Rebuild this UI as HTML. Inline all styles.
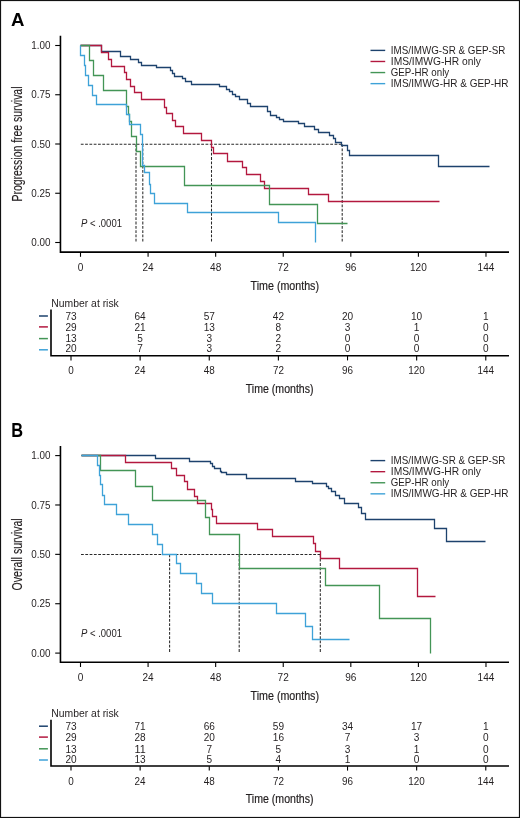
<!DOCTYPE html>
<html><head><meta charset="utf-8"><title>Kaplan-Meier survival curves</title>
<style>
html,body{margin:0;padding:0;background:#fff;}
body{width:520px;height:818px;overflow:hidden;}
svg{display:block;will-change:transform;}
svg text{font-family:'Liberation Sans',sans-serif;}
</style></head><body>
<svg width="520" height="818" viewBox="0 0 520 818">
<rect x="0" y="0" width="520" height="818" fill="#fff"/>
<text x="11.0" y="25.8" font-size="18.60" font-weight="bold" fill="#000">A</text>
<path d="M60.45 35.8 V252.1 H509" fill="none" stroke="#000" stroke-width="1.6"/>
<path d="M55.2 45.50 H60" stroke="#000" stroke-width="1.1"/>
<text x="50.5" y="49.1" font-size="10.00" text-anchor="end" textLength="19.2" lengthAdjust="spacingAndGlyphs" fill="#231f20">1.00</text>
<path d="M55.2 94.75 H60" stroke="#000" stroke-width="1.1"/>
<text x="50.5" y="98.3" font-size="10.00" text-anchor="end" textLength="19.2" lengthAdjust="spacingAndGlyphs" fill="#231f20">0.75</text>
<path d="M55.2 144.00 H60" stroke="#000" stroke-width="1.1"/>
<text x="50.5" y="147.6" font-size="10.00" text-anchor="end" textLength="19.2" lengthAdjust="spacingAndGlyphs" fill="#231f20">0.50</text>
<path d="M55.2 193.25 H60" stroke="#000" stroke-width="1.1"/>
<text x="50.5" y="196.8" font-size="10.00" text-anchor="end" textLength="19.2" lengthAdjust="spacingAndGlyphs" fill="#231f20">0.25</text>
<path d="M55.2 242.50 H60" stroke="#000" stroke-width="1.1"/>
<text x="50.5" y="246.1" font-size="10.00" text-anchor="end" textLength="19.2" lengthAdjust="spacingAndGlyphs" fill="#231f20">0.00</text>
<path d="M80.50 252.5 V256.8" stroke="#000" stroke-width="1.1"/>
<text x="80.5" y="270.7" font-size="10.00" text-anchor="middle" textLength="5.6" lengthAdjust="spacingAndGlyphs" fill="#231f20">0</text>
<path d="M148.08 252.5 V256.8" stroke="#000" stroke-width="1.1"/>
<text x="148.1" y="270.7" font-size="10.00" text-anchor="middle" textLength="11.2" lengthAdjust="spacingAndGlyphs" fill="#231f20">24</text>
<path d="M215.66 252.5 V256.8" stroke="#000" stroke-width="1.1"/>
<text x="215.7" y="270.7" font-size="10.00" text-anchor="middle" textLength="11.2" lengthAdjust="spacingAndGlyphs" fill="#231f20">48</text>
<path d="M283.24 252.5 V256.8" stroke="#000" stroke-width="1.1"/>
<text x="283.2" y="270.7" font-size="10.00" text-anchor="middle" textLength="11.2" lengthAdjust="spacingAndGlyphs" fill="#231f20">72</text>
<path d="M350.82 252.5 V256.8" stroke="#000" stroke-width="1.1"/>
<text x="350.8" y="270.7" font-size="10.00" text-anchor="middle" textLength="11.2" lengthAdjust="spacingAndGlyphs" fill="#231f20">96</text>
<path d="M418.40 252.5 V256.8" stroke="#000" stroke-width="1.1"/>
<text x="418.4" y="270.7" font-size="10.00" text-anchor="middle" textLength="16.8" lengthAdjust="spacingAndGlyphs" fill="#231f20">120</text>
<path d="M485.98 252.5 V256.8" stroke="#000" stroke-width="1.1"/>
<text x="486.0" y="270.7" font-size="10.00" text-anchor="middle" textLength="16.8" lengthAdjust="spacingAndGlyphs" fill="#231f20">144</text>
<text x="250.6" y="289.6" font-size="12.00" textLength="68.4" lengthAdjust="spacingAndGlyphs" fill="#231f20" stroke="#231f20" stroke-width="0.2">Time (months)</text>
<text x="0" y="0" font-size="13.8" text-anchor="middle" stroke="#231f20" stroke-width="0.15" textLength="115.0" lengthAdjust="spacingAndGlyphs" fill="#231f20" transform="translate(22.3 144.0) rotate(-90)">Progression free survival</text>
<text x="81" y="226.5" font-size="10.1" fill="#231f20" textLength="41" lengthAdjust="spacingAndGlyphs"><tspan font-style="italic">P</tspan> &lt; .0001</text>
<path d="M370.5 50.40 H385.2" stroke="#1d426d" stroke-width="1.4"/>
<text x="390.8" y="53.6" font-size="10.20" textLength="114.6" lengthAdjust="spacingAndGlyphs" fill="#231f20">IMS/IMWG-SR &amp; GEP-SR</text>
<path d="M370.5 61.48 H385.2" stroke="#b3183f" stroke-width="1.4"/>
<text x="390.8" y="64.7" font-size="10.20" textLength="90.0" lengthAdjust="spacingAndGlyphs" fill="#231f20">IMS/IMWG-HR only</text>
<path d="M370.5 72.56 H385.2" stroke="#439556" stroke-width="1.4"/>
<text x="390.8" y="75.7" font-size="10.20" textLength="58.4" lengthAdjust="spacingAndGlyphs" fill="#231f20">GEP-HR only</text>
<path d="M370.5 83.64 H385.2" stroke="#3ea2d8" stroke-width="1.4"/>
<text x="390.8" y="86.8" font-size="10.20" textLength="117.7" lengthAdjust="spacingAndGlyphs" fill="#231f20">IMS/IMWG-HR &amp; GEP-HR</text>
<path d="M80.8 144.2 H342.2 M136.0 144.2 V242.5 M142.8 144.2 V242.5 M211.5 144.2 V242.5 M342.2 144.2 V242.5" fill="none" stroke="#2a2a2a" stroke-width="1.05" stroke-dasharray="2.8 1.5"/>
<path d="M80.5 45.5 H101.5 V51.5 H120.5 V56.5 H130.5 V59.5 H138.5 V62.5 H141.5 V65.5 H156.5 V67.5 H170.5 V70.5 H172.5 V73.5 H174.5 V76.5 H182.5 V78.5 H185.5 V81.5 H191.5 V84.5 H219.5 V86.5 H226.5 V89.5 H229.5 V91.5 H232.5 V94.5 H235.5 V96.5 H239.5 V99.5 H247.5 V103.5 H250.5 V106.5 H267.5 V111.5 H270.5 V115.5 H276.5 V117.5 H279.5 V119.5 H283.5 V121.5 H298.5 V123.5 H304.5 V126.5 H314.5 V129.5 H318.5 V132.5 H329.5 V135.5 H333.5 V138.5 H335.5 V142.5 H341.5 V145.5 H347.5 V150.5 H349.5 V155.5 H438.5 V166.5 H489.5" fill="none" stroke="#1d426d" stroke-width="1.3"/>
<path d="M80.5 45.5 H101.5 V52.5 H108.5 V59.5 H111.5 V66.5 H124.5 V72.5 H126.5 V79.5 H130.5 V86.5 H134.5 V92.5 H141.5 V99.5 H164.5 V107.5 H166.5 V113.5 H172.5 V120.5 H175.5 V126.5 H183.5 V133.5 H201.5 V140.5 H211.5 V147.5 H213.5 V153.5 H227.5 V161.5 H242.5 V167.5 H246.5 V174.5 H260.5 V181.5 H264.5 V188.5 H308.5 V194.5 H328.5 V201.5 H439.5" fill="none" stroke="#b3183f" stroke-width="1.3"/>
<path d="M80.5 45.5 H89.5 V60.5 H93.5 V75.5 H103.5 V90.5 H126.5 V106.5 H128.5 V114.5 H129.5 V121.5 H131.5 V136.5 H136.5 V151.5 H140.5 V166.5 H184.5 V185.5 H269.5 V204.5 H317.5 V223.5 H347.5" fill="none" stroke="#439556" stroke-width="1.3"/>
<path d="M80.5 45.5 V55.5 H84.5 V65.5 H85.5 V75.5 H88.5 V85.5 H92.5 V95.5 H96.5 V104.5 H126.5 V114.5 H129.5 V124.5 H140.5 V134.5 H142.5 V165.5 H144.5 V172.5 H149.5 V184.5 H150.5 V193.5 H154.5 V203.5 H187.5 V212.5 H278.5 V222.5 H315.5 V242.5" fill="none" stroke="#3ea2d8" stroke-width="1.3"/>
<text x="51.3" y="306.5" font-size="10.00" textLength="67.5" lengthAdjust="spacingAndGlyphs" fill="#231f20">Number at risk</text>
<path d="M51 309.5 V355.8 H509" fill="none" stroke="#000" stroke-width="1.6"/>
<path d="M39 316.0 H47.9" stroke="#1d426d" stroke-width="1.5"/>
<text x="71.0" y="319.5" font-size="10.00" text-anchor="middle" textLength="11.2" lengthAdjust="spacingAndGlyphs" fill="#231f20">73</text>
<text x="140.1" y="319.5" font-size="10.00" text-anchor="middle" textLength="11.2" lengthAdjust="spacingAndGlyphs" fill="#231f20">64</text>
<text x="209.3" y="319.5" font-size="10.00" text-anchor="middle" textLength="11.2" lengthAdjust="spacingAndGlyphs" fill="#231f20">57</text>
<text x="278.4" y="319.5" font-size="10.00" text-anchor="middle" textLength="11.2" lengthAdjust="spacingAndGlyphs" fill="#231f20">42</text>
<text x="347.5" y="319.5" font-size="10.00" text-anchor="middle" textLength="11.2" lengthAdjust="spacingAndGlyphs" fill="#231f20">20</text>
<text x="416.6" y="319.5" font-size="10.00" text-anchor="middle" textLength="11.2" lengthAdjust="spacingAndGlyphs" fill="#231f20">10</text>
<text x="485.8" y="319.5" font-size="10.00" text-anchor="middle" textLength="5.6" lengthAdjust="spacingAndGlyphs" fill="#231f20">1</text>
<path d="M39 326.9 H47.9" stroke="#b3183f" stroke-width="1.5"/>
<text x="71.0" y="330.8" font-size="10.00" text-anchor="middle" textLength="11.2" lengthAdjust="spacingAndGlyphs" fill="#231f20">29</text>
<text x="140.1" y="330.8" font-size="10.00" text-anchor="middle" textLength="11.2" lengthAdjust="spacingAndGlyphs" fill="#231f20">21</text>
<text x="209.3" y="330.8" font-size="10.00" text-anchor="middle" textLength="11.2" lengthAdjust="spacingAndGlyphs" fill="#231f20">13</text>
<text x="278.4" y="330.8" font-size="10.00" text-anchor="middle" textLength="5.6" lengthAdjust="spacingAndGlyphs" fill="#231f20">8</text>
<text x="347.5" y="330.8" font-size="10.00" text-anchor="middle" textLength="5.6" lengthAdjust="spacingAndGlyphs" fill="#231f20">3</text>
<text x="416.6" y="330.8" font-size="10.00" text-anchor="middle" textLength="5.6" lengthAdjust="spacingAndGlyphs" fill="#231f20">1</text>
<text x="485.8" y="330.8" font-size="10.00" text-anchor="middle" textLength="5.6" lengthAdjust="spacingAndGlyphs" fill="#231f20">0</text>
<path d="M39 338.6 H47.9" stroke="#439556" stroke-width="1.5"/>
<text x="71.0" y="342.3" font-size="10.00" text-anchor="middle" textLength="11.2" lengthAdjust="spacingAndGlyphs" fill="#231f20">13</text>
<text x="140.1" y="342.3" font-size="10.00" text-anchor="middle" textLength="5.6" lengthAdjust="spacingAndGlyphs" fill="#231f20">5</text>
<text x="209.3" y="342.3" font-size="10.00" text-anchor="middle" textLength="5.6" lengthAdjust="spacingAndGlyphs" fill="#231f20">3</text>
<text x="278.4" y="342.3" font-size="10.00" text-anchor="middle" textLength="5.6" lengthAdjust="spacingAndGlyphs" fill="#231f20">2</text>
<text x="347.5" y="342.3" font-size="10.00" text-anchor="middle" textLength="5.6" lengthAdjust="spacingAndGlyphs" fill="#231f20">0</text>
<text x="416.6" y="342.3" font-size="10.00" text-anchor="middle" textLength="5.6" lengthAdjust="spacingAndGlyphs" fill="#231f20">0</text>
<text x="485.8" y="342.3" font-size="10.00" text-anchor="middle" textLength="5.6" lengthAdjust="spacingAndGlyphs" fill="#231f20">0</text>
<path d="M39 349.8 H47.9" stroke="#3ea2d8" stroke-width="1.5"/>
<text x="71.0" y="352.3" font-size="10.00" text-anchor="middle" textLength="11.2" lengthAdjust="spacingAndGlyphs" fill="#231f20">20</text>
<text x="140.1" y="352.3" font-size="10.00" text-anchor="middle" textLength="5.6" lengthAdjust="spacingAndGlyphs" fill="#231f20">7</text>
<text x="209.3" y="352.3" font-size="10.00" text-anchor="middle" textLength="5.6" lengthAdjust="spacingAndGlyphs" fill="#231f20">3</text>
<text x="278.4" y="352.3" font-size="10.00" text-anchor="middle" textLength="5.6" lengthAdjust="spacingAndGlyphs" fill="#231f20">2</text>
<text x="347.5" y="352.3" font-size="10.00" text-anchor="middle" textLength="5.6" lengthAdjust="spacingAndGlyphs" fill="#231f20">0</text>
<text x="416.6" y="352.3" font-size="10.00" text-anchor="middle" textLength="5.6" lengthAdjust="spacingAndGlyphs" fill="#231f20">0</text>
<text x="485.8" y="352.3" font-size="10.00" text-anchor="middle" textLength="5.6" lengthAdjust="spacingAndGlyphs" fill="#231f20">0</text>
<path d="M71.00 356.0 V360.4" stroke="#000" stroke-width="1.1"/>
<text x="71.0" y="374.3" font-size="10.00" text-anchor="middle" textLength="5.5" lengthAdjust="spacingAndGlyphs" fill="#231f20">0</text>
<path d="M140.13 356.0 V360.4" stroke="#000" stroke-width="1.1"/>
<text x="140.1" y="374.3" font-size="10.00" text-anchor="middle" textLength="11.0" lengthAdjust="spacingAndGlyphs" fill="#231f20">24</text>
<path d="M209.26 356.0 V360.4" stroke="#000" stroke-width="1.1"/>
<text x="209.3" y="374.3" font-size="10.00" text-anchor="middle" textLength="11.0" lengthAdjust="spacingAndGlyphs" fill="#231f20">48</text>
<path d="M278.39 356.0 V360.4" stroke="#000" stroke-width="1.1"/>
<text x="278.4" y="374.3" font-size="10.00" text-anchor="middle" textLength="11.0" lengthAdjust="spacingAndGlyphs" fill="#231f20">72</text>
<path d="M347.52 356.0 V360.4" stroke="#000" stroke-width="1.1"/>
<text x="347.5" y="374.3" font-size="10.00" text-anchor="middle" textLength="11.0" lengthAdjust="spacingAndGlyphs" fill="#231f20">96</text>
<path d="M416.65 356.0 V360.4" stroke="#000" stroke-width="1.1"/>
<text x="416.6" y="374.3" font-size="10.00" text-anchor="middle" textLength="16.5" lengthAdjust="spacingAndGlyphs" fill="#231f20">120</text>
<path d="M485.78 356.0 V360.4" stroke="#000" stroke-width="1.1"/>
<text x="485.8" y="374.3" font-size="10.00" text-anchor="middle" textLength="16.5" lengthAdjust="spacingAndGlyphs" fill="#231f20">144</text>
<text x="245.8" y="392.7" font-size="12.00" textLength="67.7" lengthAdjust="spacingAndGlyphs" fill="#231f20" stroke="#231f20" stroke-width="0.2">Time (months)</text>
<text x="0" y="0" font-size="18.6" font-weight="bold" fill="#000" transform="translate(11.3 436.8) scale(0.88 1.04)">B</text>
<path d="M60.45 446.0 V662.3 H509" fill="none" stroke="#000" stroke-width="1.6"/>
<path d="M55.2 455.60 H60" stroke="#000" stroke-width="1.1"/>
<text x="50.5" y="459.2" font-size="10.00" text-anchor="end" textLength="19.2" lengthAdjust="spacingAndGlyphs" fill="#231f20">1.00</text>
<path d="M55.2 504.98 H60" stroke="#000" stroke-width="1.1"/>
<text x="50.5" y="508.6" font-size="10.00" text-anchor="end" textLength="19.2" lengthAdjust="spacingAndGlyphs" fill="#231f20">0.75</text>
<path d="M55.2 554.35 H60" stroke="#000" stroke-width="1.1"/>
<text x="50.5" y="558.0" font-size="10.00" text-anchor="end" textLength="19.2" lengthAdjust="spacingAndGlyphs" fill="#231f20">0.50</text>
<path d="M55.2 603.73 H60" stroke="#000" stroke-width="1.1"/>
<text x="50.5" y="607.3" font-size="10.00" text-anchor="end" textLength="19.2" lengthAdjust="spacingAndGlyphs" fill="#231f20">0.25</text>
<path d="M55.2 653.10 H60" stroke="#000" stroke-width="1.1"/>
<text x="50.5" y="656.7" font-size="10.00" text-anchor="end" textLength="19.2" lengthAdjust="spacingAndGlyphs" fill="#231f20">0.00</text>
<path d="M80.50 662.7 V667.0" stroke="#000" stroke-width="1.1"/>
<text x="80.5" y="680.9" font-size="10.00" text-anchor="middle" textLength="5.6" lengthAdjust="spacingAndGlyphs" fill="#231f20">0</text>
<path d="M148.08 662.7 V667.0" stroke="#000" stroke-width="1.1"/>
<text x="148.1" y="680.9" font-size="10.00" text-anchor="middle" textLength="11.2" lengthAdjust="spacingAndGlyphs" fill="#231f20">24</text>
<path d="M215.66 662.7 V667.0" stroke="#000" stroke-width="1.1"/>
<text x="215.7" y="680.9" font-size="10.00" text-anchor="middle" textLength="11.2" lengthAdjust="spacingAndGlyphs" fill="#231f20">48</text>
<path d="M283.24 662.7 V667.0" stroke="#000" stroke-width="1.1"/>
<text x="283.2" y="680.9" font-size="10.00" text-anchor="middle" textLength="11.2" lengthAdjust="spacingAndGlyphs" fill="#231f20">72</text>
<path d="M350.82 662.7 V667.0" stroke="#000" stroke-width="1.1"/>
<text x="350.8" y="680.9" font-size="10.00" text-anchor="middle" textLength="11.2" lengthAdjust="spacingAndGlyphs" fill="#231f20">96</text>
<path d="M418.40 662.7 V667.0" stroke="#000" stroke-width="1.1"/>
<text x="418.4" y="680.9" font-size="10.00" text-anchor="middle" textLength="16.8" lengthAdjust="spacingAndGlyphs" fill="#231f20">120</text>
<path d="M485.98 662.7 V667.0" stroke="#000" stroke-width="1.1"/>
<text x="486.0" y="680.9" font-size="10.00" text-anchor="middle" textLength="16.8" lengthAdjust="spacingAndGlyphs" fill="#231f20">144</text>
<text x="250.6" y="699.8" font-size="12.00" textLength="68.4" lengthAdjust="spacingAndGlyphs" fill="#231f20" stroke="#231f20" stroke-width="0.2">Time (months)</text>
<text x="0" y="0" font-size="13.8" text-anchor="middle" stroke="#231f20" stroke-width="0.15" textLength="72.0" lengthAdjust="spacingAndGlyphs" fill="#231f20" transform="translate(22.3 554.4) rotate(-90)">Overall survival</text>
<text x="81" y="636.7" font-size="10.1" fill="#231f20" textLength="41" lengthAdjust="spacingAndGlyphs"><tspan font-style="italic">P</tspan> &lt; .0001</text>
<path d="M370.5 460.60 H385.2" stroke="#1d426d" stroke-width="1.4"/>
<text x="390.8" y="463.8" font-size="10.20" textLength="114.6" lengthAdjust="spacingAndGlyphs" fill="#231f20">IMS/IMWG-SR &amp; GEP-SR</text>
<path d="M370.5 471.68 H385.2" stroke="#b3183f" stroke-width="1.4"/>
<text x="390.8" y="474.9" font-size="10.20" textLength="90.0" lengthAdjust="spacingAndGlyphs" fill="#231f20">IMS/IMWG-HR only</text>
<path d="M370.5 482.76 H385.2" stroke="#439556" stroke-width="1.4"/>
<text x="390.8" y="485.9" font-size="10.20" textLength="58.4" lengthAdjust="spacingAndGlyphs" fill="#231f20">GEP-HR only</text>
<path d="M370.5 493.84 H385.2" stroke="#3ea2d8" stroke-width="1.4"/>
<text x="390.8" y="496.9" font-size="10.20" textLength="117.7" lengthAdjust="spacingAndGlyphs" fill="#231f20">IMS/IMWG-HR &amp; GEP-HR</text>
<path d="M81.0 554.5 H320.3 M169.6 554.5 V653.0 M239.2 554.5 V653.0 M320.3 554.5 V653.0" fill="none" stroke="#2a2a2a" stroke-width="1.05" stroke-dasharray="2.8 1.5"/>
<path d="M81.5 455.5 H155.5 V458.5 H189.5 V461.5 H210.5 V463.5 H212.5 V466.5 H214.5 V468.5 H220.5 V471.5 H221.5 V472.5 H226.5 V474.5 H246.5 V478.5 H295.5 V481.5 H312.5 V483.5 H326.5 V486.5 H328.5 V488.5 H331.5 V491.5 H335.5 V495.5 H339.5 V498.5 H344.5 V503.5 H358.5 V507.5 H361.5 V513.5 H365.5 V519.5 H434.5 V528.5 H446.5 V541.5 H485.5" fill="none" stroke="#1d426d" stroke-width="1.3"/>
<path d="M81.5 455.5 H125.5 V462.5 H171.5 V468.5 H176.5 V475.5 H184.5 V481.5 H187.5 V489.5 H194.5 V496.5 H197.5 V503.5 H211.5 V509.5 H212.5 V516.5 H216.5 V523.5 H257.5 V529.5 H272.5 V536.5 H313.5 V543.5 H315.5 V551.5 H320.5 V558.5 H339.5 V568.5 H417.5 V596.5 H435.5" fill="none" stroke="#b3183f" stroke-width="1.3"/>
<path d="M81.5 455.5 H100.5 V470.5 H135.5 V486.5 H152.5 V500.5 H205.5 V517.5 H209.5 V534.5 H239.5 V568.5 H325.5 V585.5 H379.5 V618.5 H430.5 V653.5" fill="none" stroke="#439556" stroke-width="1.3"/>
<path d="M81.5 455.5 H97.5 V465.5 H99.5 V475.5 H100.5 V484.5 H102.5 V495.5 H104.5 V504.5 H116.5 V514.5 H128.5 V524.5 H152.5 V534.5 H157.5 V544.5 H162.5 V554.5 H176.5 V563.5 H180.5 V573.5 H196.5 V583.5 H201.5 V593.5 H212.5 V603.5 H276.5 V613.5 H305.5 V626.5 H312.5 V639.5 H349.5" fill="none" stroke="#3ea2d8" stroke-width="1.3"/>
<text x="51.3" y="716.7" font-size="10.00" textLength="67.5" lengthAdjust="spacingAndGlyphs" fill="#231f20">Number at risk</text>
<path d="M51 719.7 V766.0 H509" fill="none" stroke="#000" stroke-width="1.6"/>
<path d="M39 726.2 H47.9" stroke="#1d426d" stroke-width="1.5"/>
<text x="71.0" y="729.7" font-size="10.00" text-anchor="middle" textLength="11.2" lengthAdjust="spacingAndGlyphs" fill="#231f20">73</text>
<text x="140.1" y="729.7" font-size="10.00" text-anchor="middle" textLength="11.2" lengthAdjust="spacingAndGlyphs" fill="#231f20">71</text>
<text x="209.3" y="729.7" font-size="10.00" text-anchor="middle" textLength="11.2" lengthAdjust="spacingAndGlyphs" fill="#231f20">66</text>
<text x="278.4" y="729.7" font-size="10.00" text-anchor="middle" textLength="11.2" lengthAdjust="spacingAndGlyphs" fill="#231f20">59</text>
<text x="347.5" y="729.7" font-size="10.00" text-anchor="middle" textLength="11.2" lengthAdjust="spacingAndGlyphs" fill="#231f20">34</text>
<text x="416.6" y="729.7" font-size="10.00" text-anchor="middle" textLength="11.2" lengthAdjust="spacingAndGlyphs" fill="#231f20">17</text>
<text x="485.8" y="729.7" font-size="10.00" text-anchor="middle" textLength="5.6" lengthAdjust="spacingAndGlyphs" fill="#231f20">1</text>
<path d="M39 737.1 H47.9" stroke="#b3183f" stroke-width="1.5"/>
<text x="71.0" y="741.0" font-size="10.00" text-anchor="middle" textLength="11.2" lengthAdjust="spacingAndGlyphs" fill="#231f20">29</text>
<text x="140.1" y="741.0" font-size="10.00" text-anchor="middle" textLength="11.2" lengthAdjust="spacingAndGlyphs" fill="#231f20">28</text>
<text x="209.3" y="741.0" font-size="10.00" text-anchor="middle" textLength="11.2" lengthAdjust="spacingAndGlyphs" fill="#231f20">20</text>
<text x="278.4" y="741.0" font-size="10.00" text-anchor="middle" textLength="11.2" lengthAdjust="spacingAndGlyphs" fill="#231f20">16</text>
<text x="347.5" y="741.0" font-size="10.00" text-anchor="middle" textLength="5.6" lengthAdjust="spacingAndGlyphs" fill="#231f20">7</text>
<text x="416.6" y="741.0" font-size="10.00" text-anchor="middle" textLength="5.6" lengthAdjust="spacingAndGlyphs" fill="#231f20">3</text>
<text x="485.8" y="741.0" font-size="10.00" text-anchor="middle" textLength="5.6" lengthAdjust="spacingAndGlyphs" fill="#231f20">0</text>
<path d="M39 748.8 H47.9" stroke="#439556" stroke-width="1.5"/>
<text x="71.0" y="752.5" font-size="10.00" text-anchor="middle" textLength="11.2" lengthAdjust="spacingAndGlyphs" fill="#231f20">13</text>
<text x="140.1" y="752.5" font-size="10.00" text-anchor="middle" textLength="11.2" lengthAdjust="spacingAndGlyphs" fill="#231f20">11</text>
<text x="209.3" y="752.5" font-size="10.00" text-anchor="middle" textLength="5.6" lengthAdjust="spacingAndGlyphs" fill="#231f20">7</text>
<text x="278.4" y="752.5" font-size="10.00" text-anchor="middle" textLength="5.6" lengthAdjust="spacingAndGlyphs" fill="#231f20">5</text>
<text x="347.5" y="752.5" font-size="10.00" text-anchor="middle" textLength="5.6" lengthAdjust="spacingAndGlyphs" fill="#231f20">3</text>
<text x="416.6" y="752.5" font-size="10.00" text-anchor="middle" textLength="5.6" lengthAdjust="spacingAndGlyphs" fill="#231f20">1</text>
<text x="485.8" y="752.5" font-size="10.00" text-anchor="middle" textLength="5.6" lengthAdjust="spacingAndGlyphs" fill="#231f20">0</text>
<path d="M39 760.0 H47.9" stroke="#3ea2d8" stroke-width="1.5"/>
<text x="71.0" y="762.5" font-size="10.00" text-anchor="middle" textLength="11.2" lengthAdjust="spacingAndGlyphs" fill="#231f20">20</text>
<text x="140.1" y="762.5" font-size="10.00" text-anchor="middle" textLength="11.2" lengthAdjust="spacingAndGlyphs" fill="#231f20">13</text>
<text x="209.3" y="762.5" font-size="10.00" text-anchor="middle" textLength="5.6" lengthAdjust="spacingAndGlyphs" fill="#231f20">5</text>
<text x="278.4" y="762.5" font-size="10.00" text-anchor="middle" textLength="5.6" lengthAdjust="spacingAndGlyphs" fill="#231f20">4</text>
<text x="347.5" y="762.5" font-size="10.00" text-anchor="middle" textLength="5.6" lengthAdjust="spacingAndGlyphs" fill="#231f20">1</text>
<text x="416.6" y="762.5" font-size="10.00" text-anchor="middle" textLength="5.6" lengthAdjust="spacingAndGlyphs" fill="#231f20">0</text>
<text x="485.8" y="762.5" font-size="10.00" text-anchor="middle" textLength="5.6" lengthAdjust="spacingAndGlyphs" fill="#231f20">0</text>
<path d="M71.00 766.2 V770.6" stroke="#000" stroke-width="1.1"/>
<text x="71.0" y="784.5" font-size="10.00" text-anchor="middle" textLength="5.5" lengthAdjust="spacingAndGlyphs" fill="#231f20">0</text>
<path d="M140.13 766.2 V770.6" stroke="#000" stroke-width="1.1"/>
<text x="140.1" y="784.5" font-size="10.00" text-anchor="middle" textLength="11.0" lengthAdjust="spacingAndGlyphs" fill="#231f20">24</text>
<path d="M209.26 766.2 V770.6" stroke="#000" stroke-width="1.1"/>
<text x="209.3" y="784.5" font-size="10.00" text-anchor="middle" textLength="11.0" lengthAdjust="spacingAndGlyphs" fill="#231f20">48</text>
<path d="M278.39 766.2 V770.6" stroke="#000" stroke-width="1.1"/>
<text x="278.4" y="784.5" font-size="10.00" text-anchor="middle" textLength="11.0" lengthAdjust="spacingAndGlyphs" fill="#231f20">72</text>
<path d="M347.52 766.2 V770.6" stroke="#000" stroke-width="1.1"/>
<text x="347.5" y="784.5" font-size="10.00" text-anchor="middle" textLength="11.0" lengthAdjust="spacingAndGlyphs" fill="#231f20">96</text>
<path d="M416.65 766.2 V770.6" stroke="#000" stroke-width="1.1"/>
<text x="416.6" y="784.5" font-size="10.00" text-anchor="middle" textLength="16.5" lengthAdjust="spacingAndGlyphs" fill="#231f20">120</text>
<path d="M485.78 766.2 V770.6" stroke="#000" stroke-width="1.1"/>
<text x="485.8" y="784.5" font-size="10.00" text-anchor="middle" textLength="16.5" lengthAdjust="spacingAndGlyphs" fill="#231f20">144</text>
<text x="245.8" y="802.9" font-size="12.00" textLength="67.7" lengthAdjust="spacingAndGlyphs" fill="#231f20" stroke="#231f20" stroke-width="0.2">Time (months)</text>
<rect x="0.55" y="0.55" width="518.9" height="816.9" fill="none" stroke="#111" stroke-width="1.1"/>
</svg>
</body></html>
